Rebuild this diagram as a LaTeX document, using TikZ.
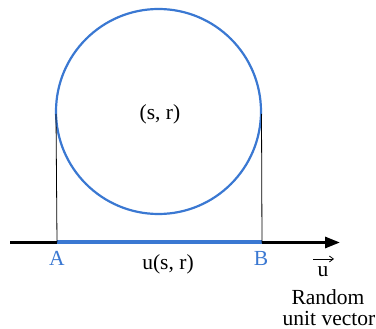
\documentclass[tikz,border=0pt]{standalone}
\usepackage{fontspec}
\setmainfont{Liberation Serif}
\usetikzlibrary{arrows.meta}
\definecolor{cblue}{RGB}{58,120,210}
\begin{document}
\begin{tikzpicture}[x=1pt,y=-1pt,
  lbl/.style={inner sep=0pt,font=\fontsize{21.5}{25}\selectfont},
  blbl/.style={lbl,text=cblue}]
\useasboundingbox (0,0) rectangle (376,329);
% circle
\node[circle,draw=cblue,line width=2.2pt,minimum size=205pt,inner sep=0pt] (c) at (158.5,111.5) {};
\node[lbl] (sr) at (160,114) {(s, r)};
% axis
\coordinate (s) at (10,242.5);
\coordinate (e) at (340,242.5);
\coordinate (pa) at (57,242.5);
\coordinate (pb) at (262,242.5);
\draw[line width=3pt,-{Triangle[length=15pt,width=11pt]}] (s) -- (e);
\draw[cblue,line width=4pt] (pa) -- (pb);
% vertical lines
\coordinate (ta) at (56,114);
\coordinate (tb) at (261.5,114);
\draw[line width=0.8pt] (ta) -- (pa);
\draw[line width=0.8pt] (tb) -- (pb);
% labels
\node[blbl] (A) at (57,258) {A};
\node[blbl] (B) at (261,258) {B};
\node[lbl] (usr) at (168,264) {u(s, r)};
\node[lbl] (u) at (323,272) {u};
\coordinate (ua) at (313,259);
\coordinate (ub) at (334,259);
\draw[line width=0.8pt,-{Straight Barb[length=4pt,width=6pt]}] (ua) -- (ub);
\node[lbl] (r1) at (328,297) {Random};
\node[lbl] (r2) at (329,318) {unit vector};
\end{tikzpicture}
\end{document}
